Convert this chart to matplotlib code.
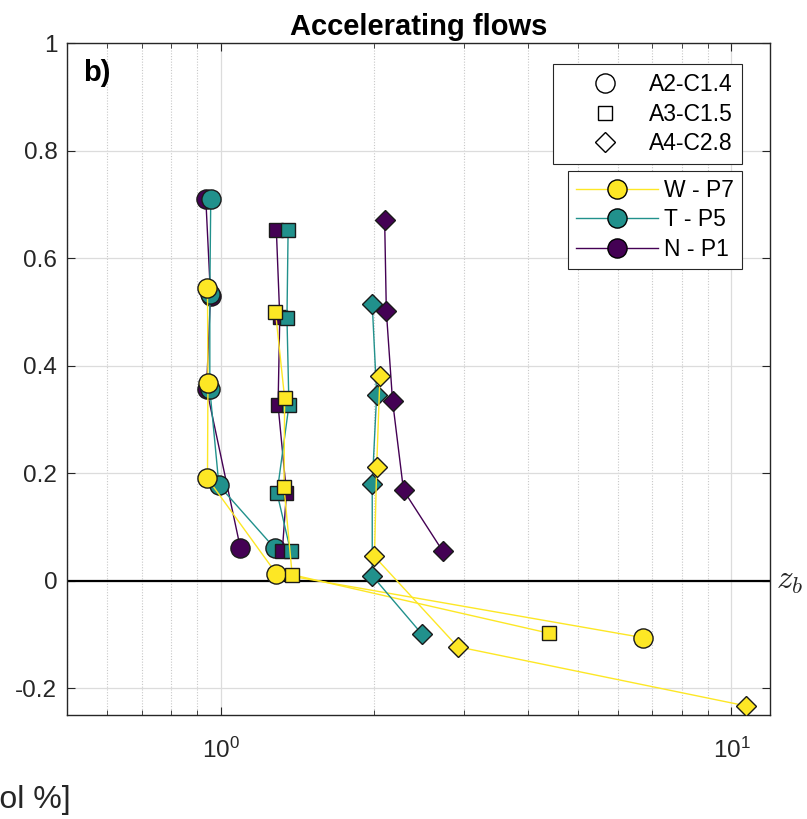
import matplotlib
matplotlib.use("Agg")
import matplotlib.pyplot as plt
from matplotlib.lines import Line2D
import matplotlib.ticker as mticker

plt.rcParams['font.family'] = ['Liberation Sans', 'DejaVu Sans']
plt.rcParams['mathtext.default'] = 'regular'

# ---- data: (x [vol %], z) per geometry and series ----
# A2-C1.4 (circles)
c_N_x = [0.935, 0.955, 0.938, 1.093]
c_N_z = [0.709, 0.530, 0.357, 0.060]
c_T_x = [0.956, 0.952, 0.952, 0.992, 1.276]
c_T_z = [0.709, 0.533, 0.356, 0.177, 0.060]
c_W_x = [0.942, 0.944, 0.942, 1.285, 6.7]
c_W_z = [0.544, 0.368, 0.190, 0.013, -0.106]
# A3-C1.5 (squares)
s_N_x = [1.285, 1.305, 1.295, 1.345, 1.32]
s_N_z = [0.652, 0.490, 0.326, 0.163, 0.055]
s_T_x = [1.355, 1.348, 1.36, 1.289, 1.37]
s_T_z = [0.652, 0.489, 0.326, 0.163, 0.055]
s_W_x = [1.28, 1.334, 1.33, 1.38, 4.4]
s_W_z = [0.500, 0.339, 0.174, 0.011, -0.098]
# A4-C2.8 (diamonds)
d_N_x = [2.094, 2.11, 2.17, 2.28, 2.72]
d_N_z = [0.670, 0.501, 0.334, 0.168, 0.055]
d_T_x = [1.98, 2.02, 1.98, 1.98, 2.48]
d_T_z = [0.514, 0.346, 0.179, 0.009, -0.100]
d_W_x = [2.05, 2.02, 2.0, 2.91, 10.67]
d_W_z = [0.380, 0.212, 0.045, -0.123, -0.233]

geom_labels = ['A2-C1.4', 'A3-C1.5', 'A4-C2.8']
series_labels = ['W - P7', 'T - P5', 'N - P1']
col_W = '#FDE725'
col_T = '#21918C'
col_N = '#440154'

W, H = 807, 819
fig = plt.figure(figsize=(W / 100, H / 100), dpi=100)
ax = fig.add_axes([67 / W, 1 - 715 / H, 703 / W, 672 / H])

msz = {'o': 13.8, 's': 10.2, 'D': 10.3}
geoms = [
    ('o', [(c_N_x, c_N_z, col_N), (c_T_x, c_T_z, col_T), (c_W_x, c_W_z, col_W)]),
    ('s', [(s_N_x, s_N_z, col_N), (s_T_x, s_T_z, col_T), (s_W_x, s_W_z, col_W)]),
    ('D', [(d_N_x, d_N_z, col_N), (d_T_x, d_T_z, col_T), (d_W_x, d_W_z, col_W)]),
]
for mk, ser in geoms:
    for x, z, c in ser:
        ax.plot(x, z, '-', color=c, lw=1.0, marker=mk, ms=msz[mk],
                mfc=c, mec='#1a1a1a', mew=1.0, zorder=3)

ax.axhline(0, color='black', lw=1.6, zorder=2)

ax.set_xscale('log')
ax.set_xlim(0.5, 11.9)
ax.set_ylim(-0.25, 1.0)
ax.set_yticks([-0.2, 0, 0.2, 0.4, 0.6, 0.8, 1.0])
ax.set_yticklabels(['-0.2', '0', '0.2', '0.4', '0.6', '0.8', '1'])
ax.set_xticks([1, 10])
ax.set_xticklabels(['$10^{0}$', '$10^{1}$'])
ax.xaxis.set_minor_locator(mticker.LogLocator(base=10, subs=range(2, 10)))
ax.xaxis.set_minor_formatter(mticker.NullFormatter())

ax.grid(True, which='major', color='#dcdcdc', lw=0.9, ls='-', zorder=0)
ax.grid(True, which='minor', axis='x', color='#c8c8c8', lw=0.8, ls=(0, (1, 1.5)), zorder=0)
ax.set_axisbelow(True)

ax.tick_params(which='both', direction='in', top=True, right=True,
               labelsize=17.5, colors='#262626', pad=7)
ax.tick_params(which='major', length=6, width=0.8)
ax.tick_params(which='minor', length=3.5, width=0.6)
ax.tick_params(axis='x', which='major', pad=16)
for sp in ax.spines.values():
    sp.set_color('#262626')
    sp.set_linewidth(1.0)

ax.set_title('Accelerating flows', fontsize=21, fontweight='bold', pad=6)
ax.text(0.023, 0.976, 'b)', transform=ax.transAxes, fontsize=21,
        fontweight='bold', va='top', ha='left')

# z_b label at right of the zero line (partly outside the figure)
ax.text(1.008, 0.2, r'$\mathit{z}_{\mathit{b}}$', transform=ax.transAxes,
        fontsize=24, va='center', ha='left', math_fontfamily='cm',
        color='#262626')

# clipped x label from neighbouring panel
fig.text(71 / W, 1 - 800 / H, 'Concentration [vol %]', fontsize=23,
         ha='right', va='center', color='#262626')

# legends
g_handles = [Line2D([], [], ls='none', marker=m, ms=msz[m], mfc='white',
                    mec='black', mew=1.0) for m in ['o', 's', 'D']]
leg1 = ax.legend(g_handles, geom_labels, loc='upper right',
                 bbox_to_anchor=(742 / W, 1 - 64 / H),
                 bbox_transform=fig.transFigure, fontsize=16.5, frameon=True,
                 fancybox=False, edgecolor='#262626', framealpha=1,
                 handlelength=3.8, handletextpad=0.0, borderpad=0.4,
                 labelspacing=0.28, borderaxespad=0)
leg1.get_frame().set_linewidth(0.8)
ax.add_artist(leg1)

s_handles = [Line2D([], [], color=c, lw=1.0, marker='o', ms=13.8, mfc=c,
                    mec='black', mew=1.0) for c in [col_W, col_T, col_N]]
leg2 = ax.legend(s_handles, series_labels, loc='upper right',
                 bbox_to_anchor=(742 / W, 1 - 171 / H),
                 bbox_transform=fig.transFigure, fontsize=16.5, frameon=True,
                 fancybox=False, edgecolor='#262626', framealpha=1,
                 handlelength=3.6, handletextpad=0.26, borderpad=0.35,
                 labelspacing=0.28, borderaxespad=0)
leg2.get_frame().set_linewidth(0.8)

fig.savefig('out.png', dpi=100)
